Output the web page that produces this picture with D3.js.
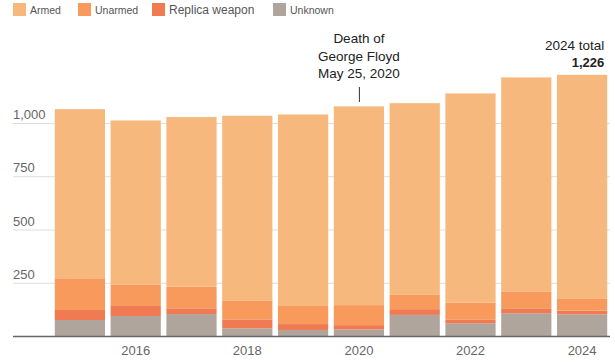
<!DOCTYPE html>
<html>
<head>
<meta charset="utf-8">
<script src="https://cdn.jsdelivr.net/npm/d3@7.9.0/dist/d3.min.js"></script>
<style>
  body { margin: 0; background: #fff; }
  svg { display: block; font-family: "Liberation Sans", Arial, sans-serif; }
</style>
</head>
<body>
<svg id="chart" width="615" height="362"></svg>
<script>
const years = [2015, 2016, 2017, 2018, 2019, 2020, 2021, 2022, 2023, 2024];
const armed = [794, 772, 796, 869, 899, 933, 900, 982, 1007, 1052];
const unarmed = [149, 99, 102, 87, 85, 94, 67, 81, 77, 55];
const replica = [47, 47, 27, 42, 28, 20, 27, 16, 23, 17];
const unknown = [75, 94, 103, 36, 28, 31, 99, 60, 107, 102];
const yTicks = [250, 500, 750, 1000];
const xTickYears = [2016, 2018, 2020, 2022, 2024];

const keys = ['unknown', 'replica', 'unarmed', 'armed'];
const labels = { armed: 'Armed', unarmed: 'Unarmed', replica: 'Replica weapon', unknown: 'Unknown' };
const colors = { armed: '#f6b87d', unarmed: '#f79a5c', replica: '#f07b53', unknown: '#afa59c' };

const rows = years.map((year, i) => ({
  year, armed: armed[i], unarmed: unarmed[i], replica: replica[i], unknown: unknown[i]
}));

const svg = d3.select('#chart');
const baseY = 336;

const x = d3.scaleBand().domain(years).range([52, 610]).paddingInner(0.1).paddingOuter(0.05);
const y = d3.scaleLinear().domain([0, 1000]).range([baseY, 123]);

// grid lines + labels
svg.append('g').selectAll('line')
  .data(yTicks)
  .join('line')
  .attr('x1', 13).attr('x2', 610)
  .attr('y1', d => y(d) + 0.5).attr('y2', d => y(d) + 0.5)
  .attr('stroke', '#ddd');

svg.append('g').selectAll('text')
  .data(yTicks)
  .join('text')
  .attr('x', 13)
  .attr('y', d => y(d) - 4)
  .attr('fill', '#666')
  .attr('font-size', 13)
  .text(d => d3.format(',')(d));

// stacked bars
const series = d3.stack().keys(keys)(rows);
svg.append('g').selectAll('g')
  .data(series)
  .join('g')
  .attr('fill', d => colors[d.key])
  .selectAll('rect')
  .data(d => d)
  .join('rect')
  .attr('x', d => x(d.data.year))
  .attr('width', x.bandwidth())
  .attr('y', d => y(d[1]))
  .attr('height', d => y(d[0]) - y(d[1]));

// baseline
svg.append('line')
  .attr('x1', 13).attr('x2', 610)
  .attr('y1', baseY + 0.5).attr('y2', baseY + 0.5)
  .attr('stroke', '#666').attr('stroke-width', 1.5);

// x labels
svg.append('g').selectAll('text')
  .data(xTickYears)
  .join('text')
  .attr('x', d => x(d) + x.bandwidth() / 2)
  .attr('y', 355)
  .attr('text-anchor', 'middle')
  .attr('fill', '#666')
  .attr('font-size', 13)
  .text(d => d);

// legend
const legendItems = [
  { key: 'armed', x: 13, size: 10.5 },
  { key: 'unarmed', x: 78, size: 10.5 },
  { key: 'replica', x: 152, size: 12 },
  { key: 'unknown', x: 273, size: 10.5 }
];
const legend = svg.append('g');
legendItems.forEach(d => {
  legend.append('rect')
    .attr('x', d.x).attr('y', 3)
    .attr('width', 13).attr('height', 13)
    .attr('fill', colors[d.key]);
  legend.append('text')
    .attr('x', d.x + 17).attr('y', 13.5)
    .attr('font-size', d.size)
    .attr('fill', '#555')
    .text(labels[d.key]);
});

// annotation: George Floyd
const ax = x(2020) + x.bandwidth() / 2;
const note = svg.append('g').attr('font-size', 13.5).attr('fill', '#222').attr('text-anchor', 'middle');
['Death of', 'George Floyd', 'May 25, 2020'].forEach((t, i) => {
  note.append('text').attr('x', ax).attr('y', 43 + i * 17.5).text(t);
});
svg.append('line')
  .attr('x1', ax + 0.5).attr('x2', ax + 0.5)
  .attr('y1', 87).attr('y2', 102)
  .attr('stroke', '#333');

// 2024 total
const tx = x(2024) + x.bandwidth() - 3;
svg.append('text')
  .attr('x', tx).attr('y', 50)
  .attr('text-anchor', 'end').attr('font-size', 13.5).attr('fill', '#222')
  .text('2024 total');
svg.append('text')
  .attr('x', tx).attr('y', 67)
  .attr('text-anchor', 'end').attr('font-size', 13).attr('font-weight', 'bold').attr('fill', '#222')
  .text(d3.format(',')(d3.sum([armed[9], unarmed[9], replica[9], unknown[9]])));
</script>
</body>
</html>
